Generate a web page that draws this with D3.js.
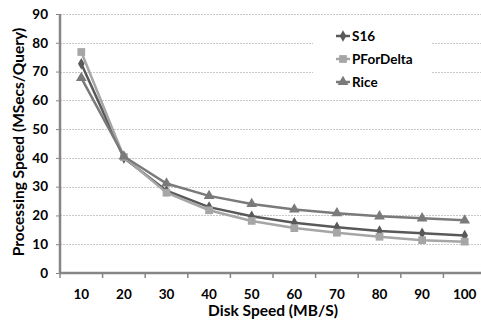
<!DOCTYPE html>
<html>
<head>
<meta charset="utf-8">
<script src="https://cdn.jsdelivr.net/npm/d3@7"></script>
<style>
  body { margin: 0; background: #fff; }
  text { font-family: Lato, "Open Sans", sans-serif; font-weight: bold; fill: #000; }
</style>
</head>
<body>
<div id="chart"></div>
<script>
// chart values
var categories = ["10", "20", "30", "40", "50", "60", "70", "80", "90", "100"];
var s16 = [72.7, 40.0, 28.6, 22.9, 19.7, 17.5, 15.9, 14.6, 13.8, 13.0];
var pForDelta = [76.8, 40.3, 27.9, 21.8, 18.1, 15.6, 14.0, 12.6, 11.4, 10.9];
var rice = [67.8, 40.5, 31.1, 26.8, 24.0, 22.1, 20.8, 19.7, 19.0, 18.3];
var yTicks = [0, 10, 20, 30, 40, 50, 60, 70, 80, 90];
var seriesNames = ["S16", "PForDelta", "Rice"];

var width = 481, height = 320;
var margin = { top: 14, right: -5, bottom: 47, left: 60 };

var svg = d3.select("#chart")
  .append("svg")
  .attr("width", width)
  .attr("height", height);

var x = d3.scaleBand()
  .domain(categories)
  .range([margin.left, width - margin.right]);
var y = d3.scaleLinear()
  .domain([0, 90])
  .range([height - margin.bottom, margin.top]);

// gridlines
svg.append("g")
  .selectAll("line")
  .data(yTicks.slice(1))
  .enter()
  .append("line")
  .attr("x1", margin.left)
  .attr("x2", width)
  .attr("y1", d => Math.round(y(d)) + 0.5)
  .attr("y2", d => Math.round(y(d)) + 0.5)
  .attr("stroke", "#c8c8c8")
  .attr("stroke-width", 1)
  .attr("stroke-dasharray", "2,1");

// y axis
var yAxis = svg.append("g")
  .attr("transform", "translate(" + margin.left + ",0)")
  .call(d3.axisLeft(y).tickValues(yTicks).tickSize(4).tickPadding(8));
yAxis.select(".domain").remove();
yAxis.selectAll(".tick line").attr("stroke", "#868686");
yAxis.selectAll("text").attr("font-size", "13.5px").style("font-family", "Lato, sans-serif");
yAxis.append("line")
  .attr("x1", 0).attr("x2", 0)
  .attr("y1", y(90)).attr("y2", y(0))
  .attr("stroke", "#868686").attr("stroke-width", 2.5);

// x axis
var xAxis = svg.append("g")
  .attr("transform", "translate(0," + y(0) + ")")
  .call(d3.axisBottom(x).tickSize(0).tickPadding(16));
xAxis.select(".domain").remove();
xAxis.selectAll("text").attr("font-size", "13.5px").style("font-family", "Lato, sans-serif");
xAxis.append("line")
  .attr("x1", margin.left).attr("x2", width)
  .attr("y1", 0).attr("y2", 0)
  .attr("stroke", "#868686").attr("stroke-width", 2.5);
xAxis.selectAll(".bound")
  .data(categories.slice(1))
  .enter()
  .append("line")
  .attr("x1", d => x(d)).attr("x2", d => x(d))
  .attr("y1", 0).attr("y2", 5)
  .attr("stroke", "#868686").attr("stroke-width", 1.5);
xAxis.append("line")
  .attr("x1", margin.left).attr("x2", margin.left)
  .attr("y1", 0).attr("y2", 5)
  .attr("stroke", "#868686").attr("stroke-width", 1.5);

// axis titles
svg.append("text")
  .attr("x", 273)
  .attr("y", 316)
  .attr("text-anchor", "middle")
  .attr("font-size", "15.5px")
  .text("Disk Speed (MB/S)");

svg.append("text")
  .attr("transform", "translate(24,142) rotate(-90)")
  .attr("text-anchor", "middle")
  .attr("font-size", "15.5px")
  .text("Processing Speed (MSecs/Query)");

// series
var series = [
  { name: seriesNames[0], values: s16, color: "#595959", shape: d3.symbolDiamond, size: 38 },
  { name: seriesNames[1], values: pForDelta, color: "#a6a6a6", shape: d3.symbolSquare, size: 60 },
  { name: seriesNames[2], values: rice, color: "#7a7a7a", shape: d3.symbolTriangle, size: 50 }
];

var line = d3.line()
  .x((d, i) => x(categories[i]) + x.bandwidth() / 2)
  .y(d => y(d));

// legend background
svg.append("rect")
  .attr("x", 313).attr("y", 20)
  .attr("width", 119).attr("height", 76)
  .attr("fill", "#fff");

series.forEach(function(s) {
  var g = svg.append("g");
  g.append("path")
    .datum(s.values)
    .attr("d", line)
    .attr("fill", "none")
    .attr("stroke", s.color)
    .attr("stroke-width", 2.5);
  g.selectAll("path.pt")
    .data(s.values)
    .enter()
    .append("path")
    .attr("class", "pt")
    .attr("d", d3.symbol().type(s.shape).size(s.size))
    .attr("transform", (d, i) => "translate(" + (x(categories[i]) + x.bandwidth() / 2) + "," + y(d) + ")")
    .attr("fill", s.color);
});

// legend
var legendY = [36, 59, 82];
series.forEach(function(s, i) {
  var lg = svg.append("g").attr("transform", "translate(336," + legendY[i] + ")");
  lg.append("line")
    .attr("x1", 0).attr("x2", 14)
    .attr("y1", 0).attr("y2", 0)
    .attr("stroke", s.color).attr("stroke-width", 2.5);
  lg.append("path")
    .attr("d", d3.symbol().type(s.shape).size(s.size))
    .attr("transform", "translate(7,0)")
    .attr("fill", s.color);
  lg.append("text")
    .attr("x", 16)
    .attr("y", 0)
    .attr("dy", "0.35em")
    .attr("font-size", "13.5px")
    .text(s.name);
});
</script>
</body>
</html>
